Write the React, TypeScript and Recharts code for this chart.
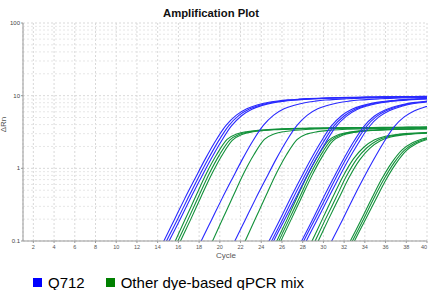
import { LineChart, Line, XAxis, YAxis, CartesianGrid, ReferenceLine } from 'recharts';

// x ticks (cycles) and log-scale y ticks
const cycleTicks = [2, 4, 6, 8, 10, 12, 14, 16, 18, 20, 22, 24, 26, 28, 30, 32, 34, 36, 38, 40];
const rnTicks = [0.1, 1, 10, 100];
const minorRn = [0.2, 0.3, 0.4, 0.5, 0.6, 0.7, 0.8, 0.9, 2, 3, 4, 5, 6, 7, 8, 9, 20, 30, 40, 50, 60, 70, 80, 90];

// each curve: first cycle read + ΔRn read at every following cycle
type Curve = { start: number; values: number[] };

const q712A: Curve = { start: 13.6, values: [0.05, 0.1, 0.195, 0.38, 0.72, 1.35, 2.4, 3.9, 5.4, 6.6, 7.45, 8.05, 8.45, 8.75, 8.95, 9.1, 9.22, 9.32, 9.4, 9.47, 9.53, 9.58, 9.63, 9.67, 9.71, 9.74, 9.77, 9.8] };
const q712B: Curve = { start: 13.85, values: [0.05, 0.1, 0.19, 0.37, 0.71, 1.32, 2.35, 3.85, 5.35, 6.55, 7.4, 8.0, 8.4, 8.7, 8.92, 9.07, 9.2, 9.3, 9.38, 9.45, 9.51, 9.56, 9.61, 9.65, 9.69, 9.72, 9.75, 9.78] };
const q712C: Curve = { start: 14.1, values: [0.05, 0.1, 0.19, 0.37, 0.7, 1.3, 2.3, 3.8, 5.3, 6.5, 7.35, 7.95, 8.35, 8.65, 8.88, 9.04, 9.17, 9.27, 9.35, 9.42, 9.48, 9.53, 9.58, 9.62, 9.66, 9.69, 9.72, 9.75] };
const q712D: Curve = { start: 17.2, values: [0.05, 0.1, 0.195, 0.38, 0.72, 1.35, 2.4, 3.9, 5.4, 6.6, 7.4, 8.0, 8.4, 8.7, 8.9, 9.05, 9.18, 9.28, 9.36, 9.43, 9.49, 9.54, 9.59, 9.63] };
const q712E: Curve = { start: 20.45, values: [0.05, 0.1, 0.195, 0.38, 0.72, 1.35, 2.4, 3.9, 5.4, 6.6, 7.4, 8.0, 8.4, 8.7, 8.9, 9.05, 9.18, 9.28, 9.36, 9.43, 9.49] };
const q712F: Curve = { start: 23.75, values: [0.05, 0.1, 0.19, 0.37, 0.7, 1.3, 2.3, 3.8, 5.3, 6.5, 7.3, 7.9, 8.3, 8.6, 8.85, 9.0, 9.13, 9.23] };
const q712G: Curve = { start: 24.0, values: [0.05, 0.1, 0.19, 0.37, 0.7, 1.3, 2.3, 3.8, 5.25, 6.45, 7.25, 7.85, 8.25, 8.55, 8.8, 8.96, 9.1, 9.2] };
const q712H: Curve = { start: 24.2, values: [0.05, 0.1, 0.19, 0.36, 0.69, 1.28, 2.25, 3.75, 5.2, 6.4, 7.2, 7.8, 8.2, 8.5, 8.75, 8.92, 9.06, 9.16] };
const q712I: Curve = { start: 26.9, values: [0.05, 0.1, 0.19, 0.37, 0.7, 1.3, 2.3, 3.75, 5.2, 6.3, 7.1, 7.7, 8.1, 8.4, 8.65] };
const q712J: Curve = { start: 27.1, values: [0.05, 0.1, 0.19, 0.36, 0.69, 1.28, 2.25, 3.7, 5.15, 6.25, 7.05, 7.65, 8.05, 8.35, 8.6] };
const q712K: Curve = { start: 27.35, values: [0.05, 0.1, 0.19, 0.36, 0.68, 1.26, 2.2, 3.65, 5.1, 6.2, 7.0, 7.6, 8.0, 8.3] };
const q712L: Curve = { start: 29.8, values: [0.05, 0.1, 0.19, 0.37, 0.7, 1.28, 2.25, 3.7, 5.1, 6.2, 7.0, 7.6] };

const otherA: Curve = { start: 14.7, values: [0.048, 0.1, 0.205, 0.42, 0.85, 1.55, 2.5, 3.0, 3.22, 3.35, 3.43, 3.48, 3.52, 3.55, 3.57, 3.59, 3.6, 3.62, 3.63, 3.64, 3.65, 3.66, 3.67, 3.68, 3.69, 3.7, 3.7] };
const otherB: Curve = { start: 14.95, values: [0.048, 0.1, 0.2, 0.41, 0.83, 1.52, 2.45, 2.97, 3.2, 3.33, 3.41, 3.46, 3.5, 3.53, 3.55, 3.57, 3.59, 3.6, 3.61, 3.62, 3.63, 3.64, 3.65, 3.66, 3.67, 3.68, 3.68] };
const otherC: Curve = { start: 15.2, values: [0.048, 0.1, 0.2, 0.41, 0.82, 1.5, 2.42, 2.95, 3.18, 3.31, 3.39, 3.44, 3.48, 3.51, 3.53, 3.55, 3.57, 3.58, 3.59, 3.6, 3.61, 3.62, 3.63, 3.64, 3.65, 3.66] };
const otherD: Curve = { start: 18.3, values: [0.048, 0.1, 0.205, 0.42, 0.85, 1.55, 2.5, 3.0, 3.22, 3.35, 3.43, 3.48, 3.52, 3.55, 3.57, 3.59, 3.6, 3.61, 3.62, 3.63, 3.64, 3.65, 3.66] };
const otherE: Curve = { start: 21.45, values: [0.048, 0.1, 0.205, 0.42, 0.85, 1.55, 2.48, 2.98, 3.2, 3.32, 3.4, 3.45, 3.49, 3.52, 3.54, 3.56, 3.57, 3.58, 3.59, 3.6] };
const otherF: Curve = { start: 24.5, values: [0.048, 0.1, 0.2, 0.41, 0.82, 1.5, 2.42, 2.92, 3.15, 3.28, 3.36, 3.41, 3.45, 3.48, 3.5, 3.52, 3.53] };
const otherG: Curve = { start: 24.7, values: [0.048, 0.1, 0.2, 0.4, 0.81, 1.48, 2.4, 2.9, 3.13, 3.26, 3.34, 3.4, 3.44, 3.47, 3.49, 3.51, 3.52] };
const otherH: Curve = { start: 24.9, values: [0.048, 0.1, 0.2, 0.4, 0.8, 1.46, 2.37, 2.88, 3.11, 3.24, 3.32, 3.38, 3.42, 3.45, 3.47, 3.49, 3.5] };
const otherI: Curve = { start: 27.9, values: [0.05, 0.1, 0.2, 0.4, 0.78, 1.35, 1.95, 2.45, 2.75, 2.9, 3.0, 3.06, 3.1, 3.13] };
const otherJ: Curve = { start: 28.2, values: [0.05, 0.1, 0.2, 0.39, 0.77, 1.33, 1.92, 2.42, 2.72, 2.88, 2.98, 3.04, 3.08, 3.11] };
const otherK: Curve = { start: 28.5, values: [0.05, 0.1, 0.2, 0.39, 0.76, 1.31, 1.9, 2.4, 2.7, 2.86, 2.96, 3.02, 3.06] };
const otherL: Curve = { start: 31.6, values: [0.05, 0.1, 0.19, 0.37, 0.7, 1.2, 1.8, 2.25, 2.55, 2.72] };
const otherM: Curve = { start: 31.8, values: [0.05, 0.1, 0.19, 0.37, 0.69, 1.18, 1.77, 2.22, 2.52, 2.7] };
const otherN: Curve = { start: 32.0, values: [0.05, 0.1, 0.19, 0.36, 0.68, 1.16, 1.75, 2.2, 2.5, 2.68] };

const q712Curves = [q712A, q712B, q712C, q712D, q712E, q712F, q712G, q712H, q712I, q712J, q712K, q712L];
const otherCurves = [otherA, otherB, otherC, otherD, otherE, otherF, otherG, otherH, otherI, otherJ, otherK, otherL, otherM, otherN];

const BLUE = '#2929ff';
const GREEN = '#12913a';

const toRows = (c: Curve) => c.values.map((v, i) => ({ cycle: c.start + i, dRn: v }));

const font = '"Liberation Sans", Arial, sans-serif';

// last label sits on the window edge, so anchor it at its end
const CycleTick = ({ x, y, payload }: any) => (
  <text x={x} y={y} dy="0.71em" fontSize={5.5} fill="#555" textAnchor={payload.value === 40 ? 'end' : 'middle'}>
    {payload.value}
  </text>
);

export default function App() {
  return (
    <div style={{ position: 'fixed', left: 0, top: 0, width: 428, height: 290, overflow: 'hidden', background: '#fff', fontFamily: font }}>
      <div style={{ position: 'absolute', left: 0, width: 422, top: 7, textAlign: 'center', fontSize: 11.3, fontWeight: 'bold', color: '#111' }}>
        Amplification Plot
      </div>
      <div style={{ position: 'absolute', left: 0, top: 0 }}>
        <LineChart width={440} height={256} margin={{ top: 23, right: 13, bottom: 0, left: 0 }}>
          <CartesianGrid stroke="#d9d9d9" strokeDasharray="2 2" />
          {minorRn.map((v) => (
            <ReferenceLine key={v} y={v} stroke="#e6e6e6" strokeDasharray="2 2" />
          ))}
          <XAxis
            type="number"
            dataKey="cycle"
            domain={[1, 40]}
            ticks={cycleTicks}
            allowDataOverflow
            height={15}
            stroke="#999"
            tickSize={2}
            tick={<CycleTick />}
            interval={0}
          />
          <YAxis
            scale="log"
            domain={[0.1, 100]}
            ticks={rnTicks}
            allowDataOverflow
            width={23}
            stroke="#999"
            tickSize={2}
            tickMargin={1}
            tick={{ fontSize: 6, fill: '#444' }}
            interval={0}
          />
          {otherCurves.map((c, i) => (
            <Line key={'o' + i} data={toRows(c)} dataKey="dRn" type="monotone" stroke={GREEN} strokeWidth={1.1} dot={false} isAnimationActive={false} />
          ))}
          {q712Curves.map((c, i) => (
            <Line key={'q' + i} data={toRows(c)} dataKey="dRn" type="monotone" stroke={BLUE} strokeWidth={1.1} dot={false} isAnimationActive={false} />
          ))}
        </LineChart>
      </div>
      <div style={{ position: 'absolute', left: 204, width: 44, top: 251, textAlign: 'center', fontSize: 8, color: '#555' }}>Cycle</div>
      <div style={{ position: 'absolute', left: -12, top: 120, width: 30, textAlign: 'center', fontSize: 8, color: '#555', transform: 'rotate(-90deg)' }}>ΔRn</div>
      <div style={{ position: 'absolute', left: 33, top: 274, display: 'flex', alignItems: 'center', fontSize: 15, color: '#000', whiteSpace: 'nowrap' }}>
        <span style={{ width: 9, height: 9, background: '#0000ff', display: 'inline-block' }} />
        <span style={{ marginLeft: 6 }}>Q712</span>
        <span style={{ width: 9, height: 9, background: '#008000', display: 'inline-block', marginLeft: 21 }} />
        <span style={{ marginLeft: 6 }}>Other dye-based qPCR mix</span>
      </div>
    </div>
  );
}
